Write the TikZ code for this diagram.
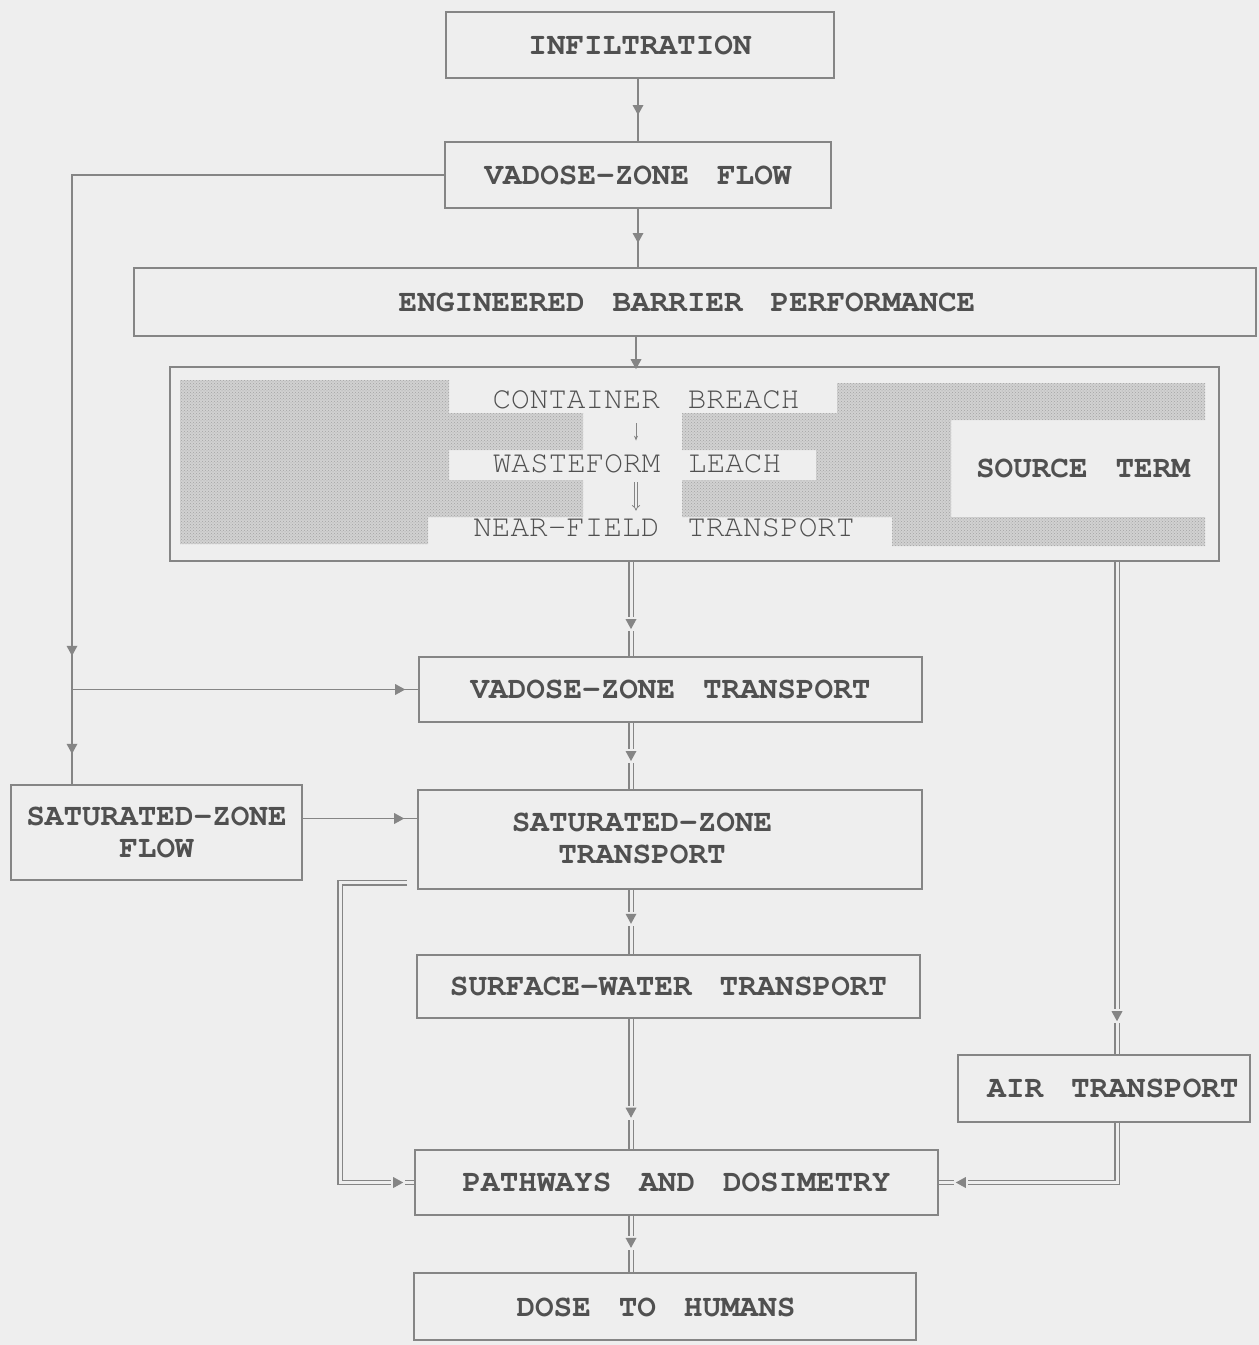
\documentclass[tikz,border=0pt]{standalone}
\usepackage{fontspec}
\newfontfamily\boxfont{texgyrecursor-bold.otf}[WordSpace=1.5]
\newfontfamily\innerfont{texgyrecursor-regular.otf}[WordSpace=1.5]
\usetikzlibrary{decorations.markings,patterns,arrows.meta}
\definecolor{bgc}{HTML}{EEEEEE}
\definecolor{linec}{HTML}{858585}
\definecolor{txtc}{HTML}{505050}
\newcommand\mytri{\fill[linec] (5,0) -- (-5,-5.5) -- (-5,5.5) -- cycle;}
\newcommand\mytrim{\fill[bgc] (-7,-6) rectangle (7,6); \fill[linec] (5,0) -- (-5,-5.5) -- (-5,5.5) -- cycle;}
\tikzset{
  box/.style={draw=linec, line width=1.6pt, rectangle, inner sep=0pt, text=txtc,
    font=\boxfont\fontsize{31}{32}\selectfont, align=center},
  lbl/.style={inner sep=0pt, text=txtc, font=\boxfont\fontsize{31}{32}\selectfont, align=center},
  inner/.style={inner sep=0pt, text=txtc, font=\innerfont\fontsize{31}{34}\selectfont},
  sline/.style={draw=linec, line width=1.4pt},
  dline/.style={draw=linec, line width=1.2pt, double=bgc, double distance=3pt},
  tipmid/.style={postaction={decorate}, decoration={markings, mark=at position #1 with {\mytri}}},
  tipmidd/.style={postaction={decorate}, decoration={markings, mark=at position #1 with {\mytrim}}},
  tipend/.style={postaction={decorate}, decoration={markings, mark=at position 0.999 with {\fill[linec] (3,0) -- (-7,-5.5) -- (-7,5.5) -- cycle;}}},
  shade/.style={fill=gray!36},
  shadedots/.style={pattern=crosshatch dots, pattern color=gray!72},
}
\begin{document}
\begin{tikzpicture}[x=1pt,y=-1pt]
\fill[bgc] (0,0) rectangle (1259,1345);
\useasboundingbox (0,0) rectangle (1259,1345);

% helper coordinates
\coordinate (upx) at (638,0);
\coordinate (ax) at (636,0);
\coordinate (spine) at (631,0);
\coordinate (cl) at (72,0);
\coordinate (lx) at (340,0);
\coordinate (rx) at (1117,0);

% boxes
\node[box, minimum width=388pt, minimum height=66pt] (infil) at (640,45) {INFILTRATION};
\node[box, minimum width=386pt, minimum height=66pt] (vzf) at (638,175) {VADOSE-ZONE FLOW};
\node[box, minimum width=1122pt, minimum height=68pt] (ebp) at (695,302) {};
\node[lbl] (ebpl) at (687,302) {ENGINEERED BARRIER PERFORMANCE};
\node[box, minimum width=1049pt, minimum height=194pt] (src) at (694.5,464) {};
\node[box, minimum width=503pt, minimum height=65pt] (vzt) at (670.5,689.5) {VADOSE-ZONE TRANSPORT};
\node[box, minimum width=291pt, minimum height=95pt] (szf) at (156.5,832.5) {SATURATED-ZONE\\FLOW};
\node[box, minimum width=504pt, minimum height=99pt] (szt) at (670,839.5) {};
\node[lbl] (sztl) at (642,838) {SATURATED-ZONE\\TRANSPORT};
\node[box, minimum width=503pt, minimum height=63pt] (swt) at (668.5,986.5) {SURFACE-WATER TRANSPORT};
\node[box, minimum width=292pt, minimum height=67pt] (air) at (1104,1088.5) {};
\node[lbl] (airl) at (1113,1088) {AIR TRANSPORT};
\node[box, minimum width=523pt, minimum height=65pt] (pad) at (676.5,1182.5) {PATHWAYS AND DOSIMETRY};
\node[box, minimum width=502pt, minimum height=67pt] (dth) at (665,1306.5) {};
\node[lbl] (dthl) at (656,1307) {DOSE TO HUMANS};

% shading inside source term box
\path[shade] (180,380) -- (449,380) -- (449,413) -- (583,413) -- (583,450) -- (449,450) -- (449,480)
  -- (583,480) -- (583,517) -- (428,517) -- (428,544) -- (180,544) -- cycle;
\path[shade] (837,383) -- (1205,383) -- (1205,420) -- (951,420) -- (951,517) -- (1205,517) -- (1205,546)
  -- (892,546) -- (892,517) -- (682,517) -- (682,480) -- (816,480) -- (816,450) -- (682,450)
  -- (682,413) -- (837,413) -- cycle;
\path[shadedots] (180,380) -- (449,380) -- (449,413) -- (583,413) -- (583,450) -- (449,450) -- (449,480)
  -- (583,480) -- (583,517) -- (428,517) -- (428,544) -- (180,544) -- cycle;
\path[shadedots] (837,383) -- (1205,383) -- (1205,420) -- (951,420) -- (951,517) -- (1205,517) -- (1205,546)
  -- (892,546) -- (892,517) -- (682,517) -- (682,480) -- (816,480) -- (816,450) -- (682,450)
  -- (682,413) -- (837,413) -- cycle;

% inner texts
\node[inner] (cb) at (646,400) {CONTAINER BREACH};
\node[inner] (wl) at (637,464) {WASTEFORM LEACH};
\node[inner] (nf) at (664,528) {NEAR-FIELD TRANSPORT};
\node[lbl] (st) at (1083,468) {SOURCE TERM};
\draw[linec, line width=1pt, -{Stealth[length=5pt,width=4pt]}, shorten <=14pt, shorten >=14pt] (cb.south -| ax) -- (wl.north -| ax);
\draw[linec, line width=0.8pt, double=bgc, double distance=2pt, -{Implies}, shorten <=9pt, shorten >=8pt] (wl.south -| ax) -- (nf.north -| ax);

% single-line connectors
\draw[sline, tipmid=0.5] (infil.south -| upx) -- (vzf.north -| upx);
\draw[sline, tipmid=0.5] (vzf.south -| upx) -- (ebp.north -| upx);
\draw[sline, tipend] (ebp.south -| ax) -- (src.north -| ax);
\draw[sline, postaction={decorate}, decoration={markings, mark=at position 848pt with {\mytri}, mark=at position 946pt with {\mytri}}]
  (vzf.west) -- (vzf.west -| cl) -- (szf.north -| cl);
\draw[sline, tipmid=-18pt] (vzt.west -| cl) -- (vzt.west);
\coordinate (s1) at ([yshift=14pt]szf.east);
\draw[sline, tipmid=-18pt] (s1) -- (s1 -| szt.west);

% double-line connectors
\draw[dline] (src.south -| spine) -- (vzt.north -| spine);
\path[tipmidd=0.66] (src.south -| spine) -- (vzt.north -| spine);
\draw[dline] (vzt.south -| spine) -- (szt.north -| spine);
\path[tipmidd=0.5] (vzt.south -| spine) -- (szt.north -| spine);
\draw[dline] (szt.south -| spine) -- (swt.north -| spine);
\path[tipmidd=0.45] (szt.south -| spine) -- (swt.north -| spine);
\draw[dline] (swt.south -| spine) -- (pad.north -| spine);
\path[tipmidd=0.72] (swt.south -| spine) -- (pad.north -| spine);
\draw[dline] (pad.south -| spine) -- (dth.north -| spine);
\path[tipmidd=0.48] (pad.south -| spine) -- (dth.north -| spine);

\coordinate (L1) at ([xshift=-10pt,yshift=7pt]szt.south west);
\draw[dline] (L1) -- (L1 -| lx) -- (lx |- pad.west) -- (pad.west);
\path[tipmidd=-16pt] (L1) -- (L1 -| lx) -- (lx |- pad.west) -- (pad.west);

\draw[dline] (src.south -| rx) -- (air.north -| rx);
\path[tipmidd=-38pt] (src.south -| rx) -- (air.north -| rx);
\draw[dline] (air.south -| rx) -- (rx |- pad.east) -- (pad.east);
\path[tipmidd=-22pt] (air.south -| rx) -- (rx |- pad.east) -- (pad.east);
\end{tikzpicture}
\end{document}
